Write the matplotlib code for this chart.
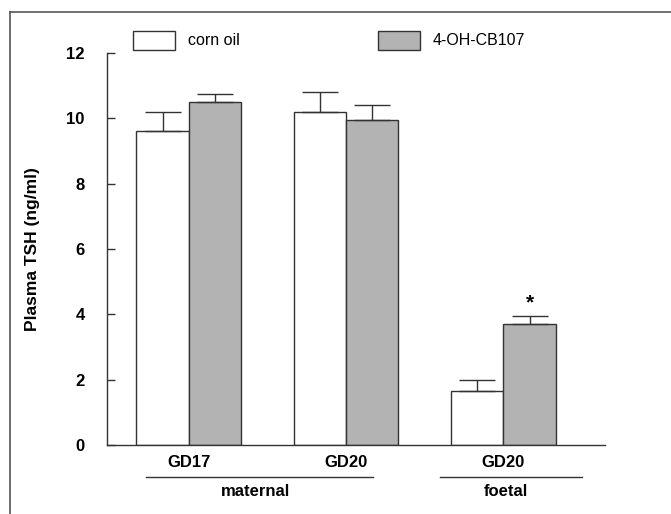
import numpy as np
import matplotlib.pyplot as plt
from matplotlib.lines import Line2D
from matplotlib.patches import Rectangle

plt.rcParams['font.family'] = ['Liberation Sans', 'DejaVu Sans']

# data
groups = ['GD17', 'GD20', 'GD20']
corn_oil = [9.6, 10.2, 1.65]
corn_oil_err = [0.6, 0.6, 0.35]
cb107 = [10.5, 9.95, 3.7]
cb107_err = [0.25, 0.45, 0.25]
significant = [False, False, True]
series_names = ['corn oil', '4-OH-CB107']

W, H = 671, 514
fig = plt.figure(figsize=(W / 100, H / 100), dpi=100)
ax = fig.add_axes([107 / W, 1 - 445 / H, (605 - 107) / W, (445 - 53) / H])

edge = '#333333'
gray = '#b3b3b3'
x = np.arange(len(groups)) * 3.0
w = 1.0
ax.bar(x - w / 2, corn_oil, w, color='white', edgecolor=edge, linewidth=1.0)
ax.bar(x + w / 2, cb107, w, color=gray, edgecolor=edge, linewidth=1.0)
ax.errorbar(x - w / 2, corn_oil, yerr=[np.zeros(3), corn_oil_err], fmt='none',
            ecolor=edge, elinewidth=1.0, capsize=13, capthick=1.0)
ax.errorbar(x + w / 2, cb107, yerr=[np.zeros(3), cb107_err], fmt='none',
            ecolor=edge, elinewidth=1.0, capsize=13, capthick=1.0)

for xi, v, e, s in zip(x, cb107, cb107_err, significant):
    if s:
        ax.text(xi + w / 2, v + e + 0.1, '*', ha='center', va='bottom',
                fontsize=15, fontweight='bold')

ax.set_xlim(-1.56, 7.94)
ax.set_ylim(0, 12)
ax.set_yticks(range(0, 13, 2))
ax.tick_params(axis='y', direction='in', length=6, width=1, pad=16,
               labelsize=12, color=edge)
for lab in ax.get_yticklabels():
    lab.set_fontweight('bold')
ax.set_xticks(x)
ax.set_xticklabels(groups, fontsize=12, fontweight='bold')
ax.tick_params(axis='x', length=0, pad=7)

for side in ['top', 'right']:
    ax.spines[side].set_visible(False)
for side in ['left', 'bottom']:
    ax.spines[side].set_color(edge)
    ax.spines[side].set_linewidth(1.0)

ax.set_ylabel('Plasma TSH (ng/ml)', fontsize=12.5, fontweight='bold', labelpad=19)

# group underline and names
trans = ax.get_xaxis_transform()
for x0, x1, name, xc in [(-0.82, 3.52, 'maternal', 1.28), (4.8, 7.5, 'foetal', 6.04)]:
    ax.add_line(Line2D([x0, x1], [-0.082, -0.082], transform=trans, color=edge,
                       linewidth=1.0, clip_on=False))
    ax.text(xc, -0.1, name, transform=trans, ha='center', va='top',
            fontsize=12, fontweight='bold')

# legend drawn by hand above the axes
for left, fc, name in [(133, 'white', series_names[0]), (378, gray, series_names[1])]:
    fig.add_artist(Rectangle((left / W, 1 - 50 / H), 42 / W, 19 / H,
                             facecolor=fc, edgecolor=edge, linewidth=1.0))
    fig.text((left + 55) / W, 1 - 41 / H, name, ha='left', va='center', fontsize=11.5)

# frame of the scanned figure
fig.add_artist(Line2D([10 / W, 1], [1 - 12 / H, 1 - 12 / H], color='#666666', linewidth=1.3))
fig.add_artist(Line2D([10 / W, 10 / W], [0, 1 - 12 / H], color='#555555', linewidth=1.2))

fig.savefig('out.png', dpi=100)
